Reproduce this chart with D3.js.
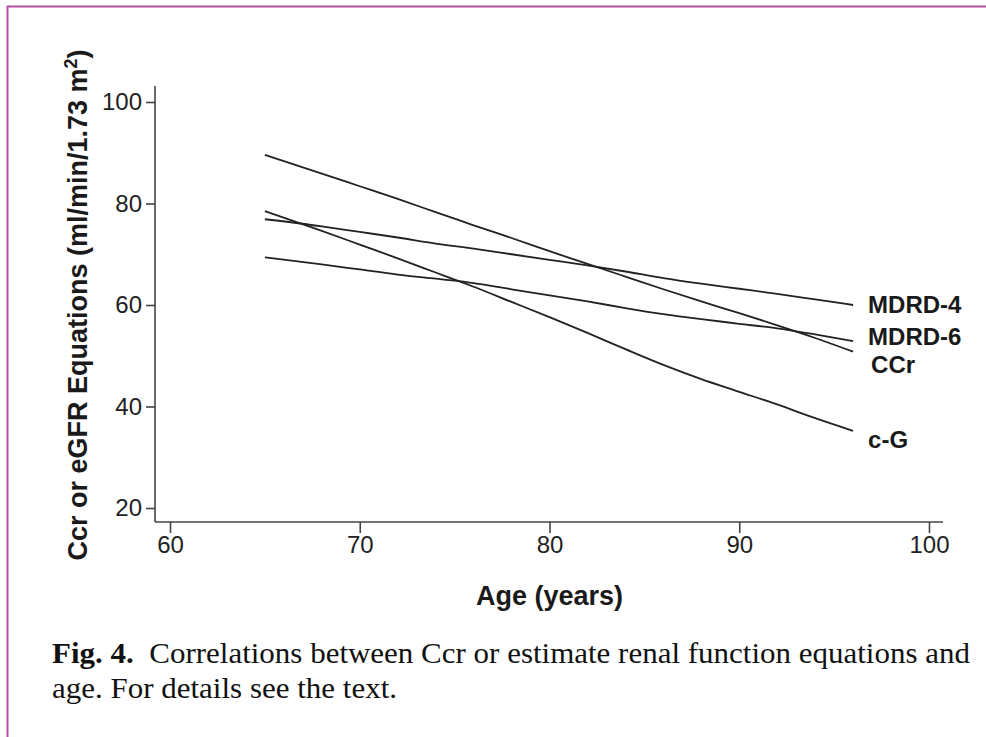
<!DOCTYPE html>
<html>
<head>
<meta charset="utf-8">
<script src="https://cdn.jsdelivr.net/npm/d3@7"></script>
<style>
  html, body { margin: 0; padding: 0; background: #fff; }
  svg { display: block; }
</style>
</head>
<body>
<svg id="chart" width="986" height="737"></svg>
<script>
// Fitted trends of Ccr and eGFR equations against age
const ages = [65, 68, 70, 72, 74, 75, 76, 78, 80, 82, 84, 86, 88, 90, 92, 94, 96];
const ccr   = [89.6, 85.9, 83.4, 80.9, 78.3, 77.0, 75.7, 73.2, 70.6, 68.1, 65.6, 63.1, 60.7, 58.4, 56.0, 53.5, 50.8];
const mdrd4 = [76.9, 75.5, 74.4, 73.3, 72.1, 71.6, 71.1, 70.0, 68.9, 67.8, 66.6, 65.3, 64.2, 63.2, 62.2, 61.1, 60.0];
const mdrd6 = [69.4, 68.0, 67.0, 66.0, 65.2, 64.8, 64.3, 63.1, 61.9, 60.7, 59.4, 58.2, 57.2, 56.3, 55.4, 54.2, 52.9];
const cg    = [78.5, 74.6, 71.9, 69.2, 66.4, 65.0, 63.6, 60.6, 57.6, 54.5, 51.3, 48.2, 45.4, 42.9, 40.4, 37.7, 35.2];
const seriesNames = ["CCr", "MDRD-4", "MDRD-6", "c-G"];
const xTicks = [60, 70, 80, 90, 100];
const yTicks = [20, 40, 60, 80, 100];

const series = [
  { name: "MDRD-4", values: mdrd4, dy: 0 },
  { name: "MDRD-6", values: mdrd6, dy: -4 },
  { name: "CCr",    values: ccr,   dy: 13 },
  { name: "c-G",    values: cg,    dy: 9 }
];

const svg = d3.select("#chart");

// Border lines at the top and left of the figure panel
svg.append("line").attr("x1", 7).attr("x2", 986).attr("y1", 6.5).attr("y2", 6.5)
  .attr("stroke", "#b44fa6").attr("stroke-width", 2);
svg.append("line").attr("x1", 7.5).attr("x2", 7.5).attr("y1", 6).attr("y2", 737)
  .attr("stroke", "#b44fa6").attr("stroke-width", 2);

const x = d3.scaleLinear().domain([60, 100]).range([170, 929]);
const y = d3.scaleLinear().domain([20, 100]).range([508, 102]);

const axisColor = "#444";
const plotLeft = 155, plotBottom = 522;

// Axis spines
svg.append("line").attr("x1", plotLeft).attr("x2", plotLeft)
  .attr("y1", y(100) - 16).attr("y2", plotBottom)
  .attr("stroke", axisColor).attr("stroke-width", 1.6);
svg.append("line").attr("x1", plotLeft).attr("x2", x(100) + 14)
  .attr("y1", plotBottom).attr("y2", plotBottom)
  .attr("stroke", axisColor).attr("stroke-width", 1.6);

const yAxis = svg.append("g")
  .attr("transform", `translate(${plotLeft},0)`)
  .call(d3.axisLeft(y).tickValues(yTicks).tickSize(9).tickPadding(4).tickFormat(d3.format("d")));
const xAxis = svg.append("g")
  .attr("transform", `translate(0,${plotBottom})`)
  .call(d3.axisBottom(x).tickValues(xTicks).tickSize(11).tickPadding(3).tickFormat(d3.format("d")));

[yAxis, xAxis].forEach(g => {
  g.select(".domain").remove();
  g.selectAll(".tick line").attr("stroke", axisColor).attr("stroke-width", 1.6);
  g.selectAll(".tick text")
    .attr("fill", "#222")
    .style("font-family", "'Liberation Sans', Arial, sans-serif")
    .style("font-size", "24px");
});

// Trend lines
const line = d3.line()
  .x((d, i) => x(ages[i]))
  .y(d => y(d))
  .curve(d3.curveMonotoneX);

svg.append("g").selectAll("path")
  .data(series)
  .join("path")
  .attr("d", d => line(d.values))
  .attr("fill", "none")
  .attr("stroke", "#222")
  .attr("stroke-width", 1.8);

// Series labels at the right ends
svg.append("g").selectAll("text")
  .data(series)
  .join("text")
  .attr("x", d => x(ages[ages.length - 1]) + (d.name === "CCr" ? 18 : 15))
  .attr("y", d => y(d.values[d.values.length - 1]) + d.dy)
  .attr("dy", "0.35em")
  .attr("fill", "#1a1a1a")
  .style("font-family", "'Liberation Sans', Arial, sans-serif")
  .style("font-weight", "bold")
  .style("font-size", "24px")
  .text(d => d.name);

// Axis titles
svg.append("text")
  .attr("x", x(80))
  .attr("y", 605)
  .attr("text-anchor", "middle")
  .attr("fill", "#1a1a1a")
  .style("font-family", "'Liberation Sans', Arial, sans-serif")
  .style("font-weight", "bold")
  .style("font-size", "27px")
  .text("Age (years)");

const yTitle = svg.append("text")
  .attr("transform", `translate(87,${y(60)}) rotate(-90)`)
  .attr("text-anchor", "middle")
  .attr("fill", "#1a1a1a")
  .style("font-family", "'Liberation Sans', Arial, sans-serif")
  .style("font-weight", "bold")
  .style("font-size", "27px");
yTitle.append("tspan").text("Ccr or eGFR Equations (ml/min/1.73 m");
yTitle.append("tspan").attr("dy", -10).style("font-size", "18px").text("2");
yTitle.append("tspan").attr("dy", 10).text(")");

// Caption
const caption = svg.append("g")
  .style("font-family", "'Liberation Serif', 'Times New Roman', serif")
  .style("font-size", "29px")
  .attr("fill", "#111");
const cap1 = caption.append("text").attr("x", 52).attr("y", 663)
  .attr("textLength", 918).attr("lengthAdjust", "spacingAndGlyphs");
cap1.append("tspan").style("font-weight", "bold").text("Fig. 4.");
cap1.append("tspan").text("\u00a0 Correlations between Ccr or estimate renal function equations and");
caption.append("text").attr("x", 52).attr("y", 698)
  .attr("textLength", 345).attr("lengthAdjust", "spacingAndGlyphs")
  .text("age. For details see the text.");
</script>
</body>
</html>
